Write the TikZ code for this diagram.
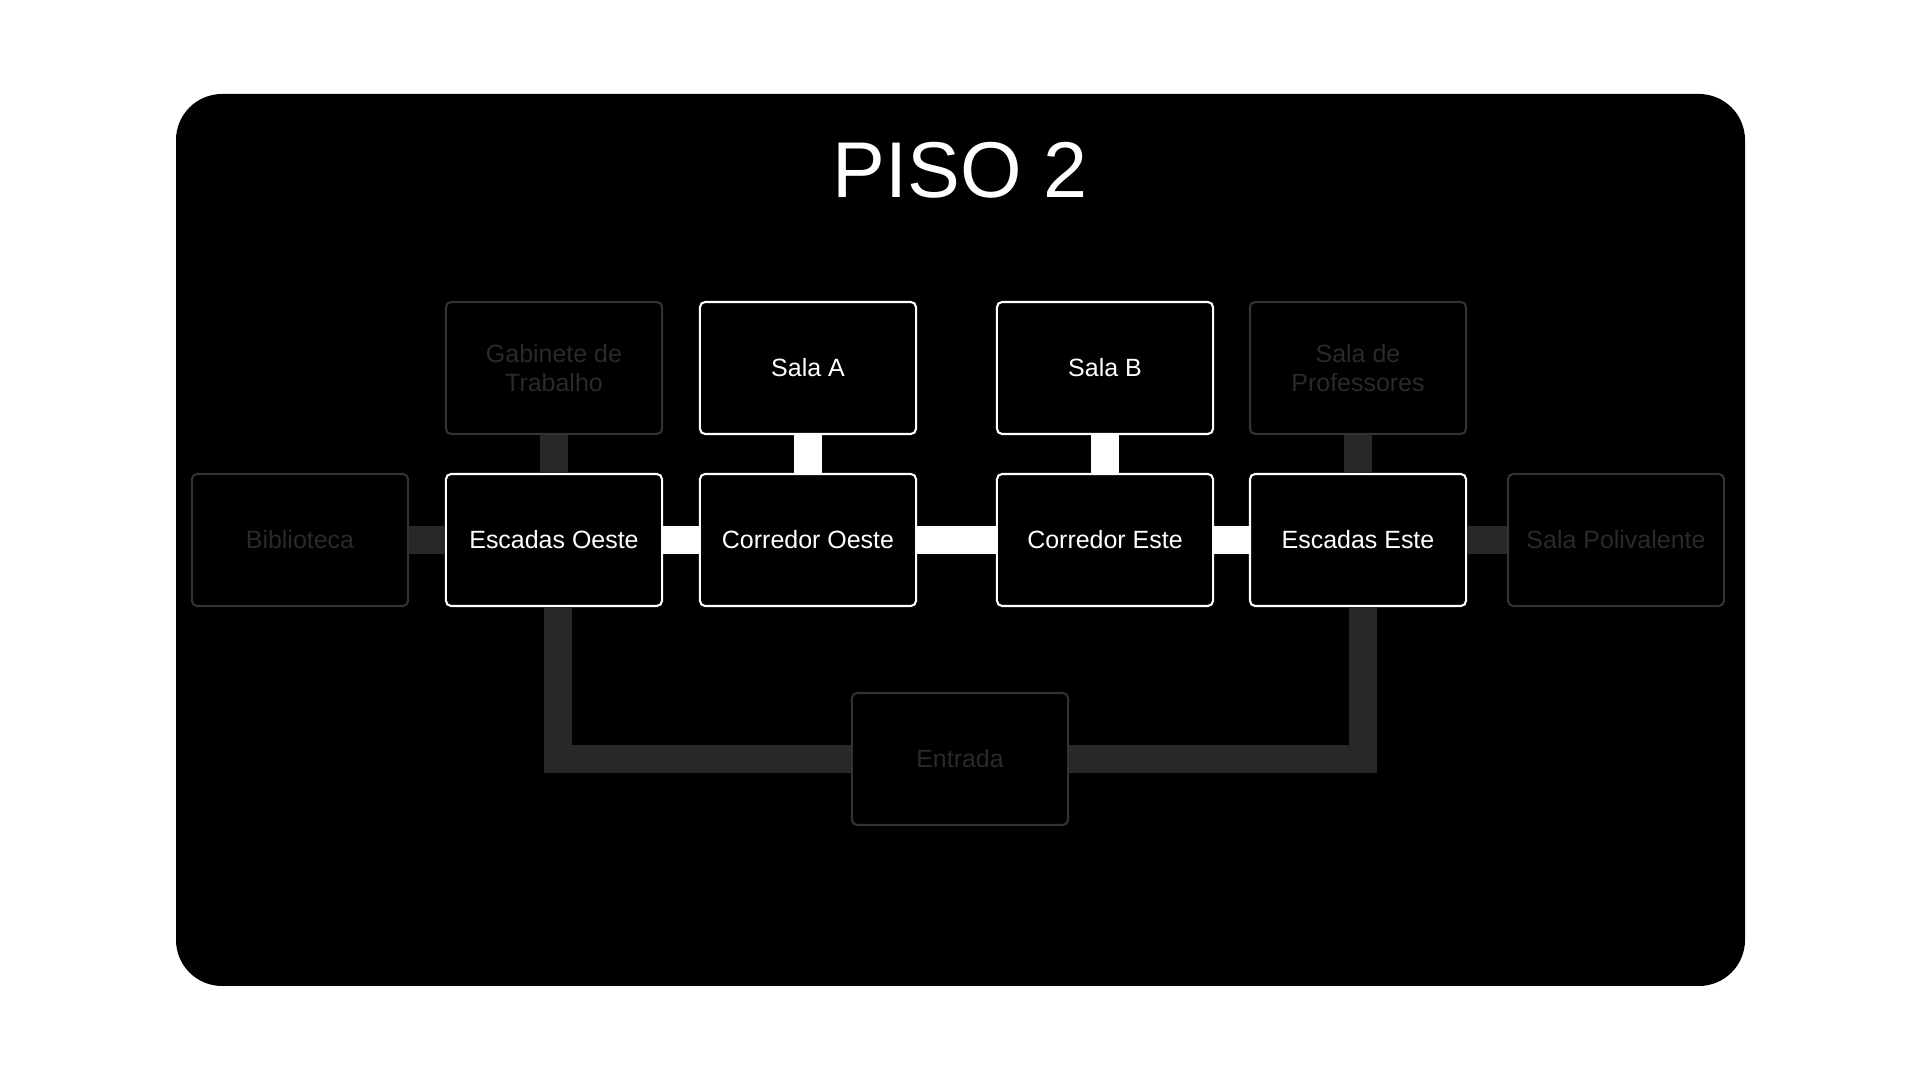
\documentclass[tikz,border=0pt]{standalone}
\usepackage{fontspec}
\setmainfont{Liberation Sans}
\usetikzlibrary{positioning}
\definecolor{dimtext}{HTML}{2A2A2A}
\definecolor{dimline}{HTML}{333333}
\definecolor{dimbar}{HTML}{282828}

\tikzset{
  room/.style={draw=white, line width=0.6pt, rounded corners=1.5pt, fill=black,
    text=white, minimum width=2.16cm, minimum height=1.32cm, inner sep=0pt,
    align=center, font=\fontsize{7.1}{8.4}\selectfont},
  dimroom/.style={room, draw=dimline, text=dimtext},
  litbar/.style={white, line width=0.28cm},
  darkbar/.style={dimbar, line width=0.28cm},
}

\begin{document}
\begin{tikzpicture}[x=0.01cm, y=-0.01cm]
       \useasboundingbox[fill=white] (0,0) rectangle (1920,1080);
       \fill[black, rounded corners=0.46cm] (176,94) rectangle (1745,986);
       \node[text=white, font=\fontsize{22.5}{27}\selectfont] (title) at (960,170) {PISO 2};

       % top row
       \node[dimroom] (gab)    at ( 554, 368) {Gabinete de\\Trabalho};
       \node[room]    (salaa)  at ( 808, 368) {Sala A};
       \node[room]    (salab)  at (1105, 368) {Sala B};
       \node[dimroom] (prof)   at (1358, 368) {Sala de\\Professores};

       % middle row
       \node[dimroom] (bib)    at ( 300, 540) {Biblioteca};
       \node[room]    (esco)   at ( 554, 540) {Escadas Oeste};
       \node[room]    (coro)   at ( 808, 540) {Corredor Oeste};
       \node[room]    (core)   at (1105, 540) {Corredor Este};
       \node[room]    (esce)   at (1358, 540) {Escadas Este};
       \node[dimroom] (poli)   at (1616, 540) {Sala Polivalente};

       \node[dimroom] (entrada) at (960, 759) {Entrada};

       % lit corridors
       \draw[litbar] (esco) -- (coro);
       \draw[litbar] (coro) -- (core);
       \draw[litbar] (core) -- (esce);
       \draw[litbar] (salaa) -- (coro);
       \draw[litbar] (salab) -- (core);

       % dark corridors
       \draw[darkbar] (bib) -- (esco);
       \draw[darkbar] (gab) -- (esco);
       \draw[darkbar] (prof) -- (esce);
       \draw[darkbar] (esce) -- (poli);
       \draw[darkbar] ([xshift=0.04cm]esco.south) |- (entrada.west);
       \draw[darkbar] ([xshift=0.05cm]esce.south) |- (entrada.east);
    \end{tikzpicture}
\end{document}
